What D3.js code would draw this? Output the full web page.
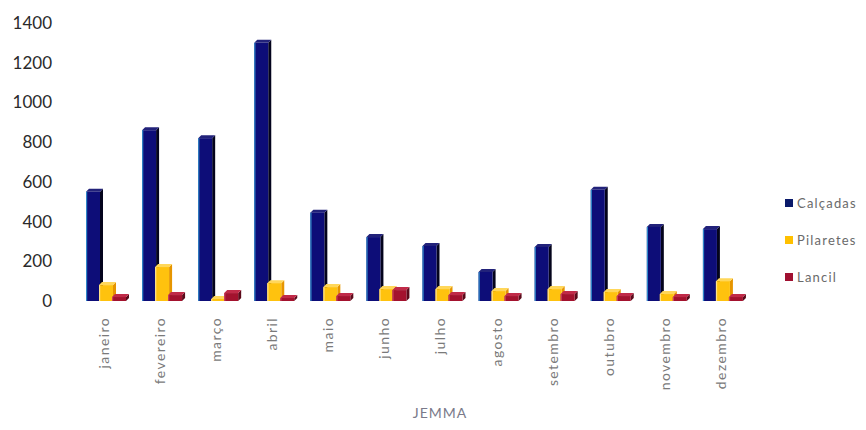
<!DOCTYPE html>
<html><head><meta charset="utf-8">
<script src="https://cdn.jsdelivr.net/npm/d3@7"></script>
<style>body{margin:0;background:#fff}svg{display:block}</style>
</head><body>
<svg id="c" width="866" height="430"></svg>
<script>
const months = ["janeiro","fevereiro","março","abril","maio","junho","julho","agosto","setembro","outubro","novembro","dezembro"];
const series = ["Calçadas","Pilaretes","Lancil"];
const calcadas = [550,860,820,1300,445,322,277,146,272,560,373,362];
const pilaretes = [80,171,10,90,70,60,60,50,60,45,35,100];
const lancil = [20,30,40,15,25,55,30,25,35,25,20,20];
const yTicks = [0,200,400,600,800,1000,1200,1400];
const xTitle = "JEMMA";

const values = {"Calçadas":calcadas,"Pilaretes":pilaretes,"Lancil":lancil};
const colors = {
  "Calçadas":{front:"#0d0d78",side:"#04041c",top:"#22227a",edge:"#2f86c8"},
  "Pilaretes":{front:"#ffc20e",side:"#e69500",top:"#ffd75a",edge:"#ffe28a"},
  "Lancil":{front:"#a3122e",side:"#5a0a1a",top:"#c02a48",edge:"#c84060"}
};
const legendColors = {"Calçadas":"#0a1a6a","Pilaretes":"#ffc000","Lancil":"#a01030"};

const svg = d3.select("#c");
const y = d3.scaleLinear().domain([0,1400]).range([301,23]);
const x0 = d3.scaleBand().domain(months).range([78,751]);
const x1 = d3.scaleBand().domain(series).range([8,47]);
const depth = 3;
const bw = x1.bandwidth() + 1;

// y axis labels
svg.append("g").selectAll("text").data(yTicks).join("text")
  .attr("x",52).attr("y",d=>y(d)).attr("dy","0.35em")
  .attr("text-anchor","end")
  .attr("font-family","Lato, 'Open Sans', sans-serif")
  .attr("font-size",17).attr("fill","#2a2a2a")
  .text(d=>d);

// bars
const g = svg.append("g");
months.forEach((m,i)=>{
  series.forEach(s=>{
    const v = values[s][i];
    const x = x0(m) + x1(s);
    const yt = y(v), yb = y(0);
    const c = colors[s];
    g.append("path")
      .attr("d",`M${x+bw},${yt}L${x+bw+depth},${yt-depth}L${x+bw+depth},${yb-depth}L${x+bw},${yb}Z`)
      .attr("fill",c.side);
    g.append("path")
      .attr("d",`M${x},${yt}L${x+depth},${yt-depth}L${x+bw+depth},${yt-depth}L${x+bw},${yt}Z`)
      .attr("fill",c.top);
    g.append("rect").attr("x",x).attr("y",yt).attr("width",bw).attr("height",Math.max(0,yb-yt))
      .attr("fill",c.front);
    g.append("rect").attr("x",x).attr("y",yt).attr("width",1.2).attr("height",Math.max(0,yb-yt))
      .attr("fill",c.edge);
  });
});

// month labels
svg.append("g").selectAll("text").data(months).join("text")
  .attr("transform",d=>`translate(${x0(d)+x0.bandwidth()/2-2},317) rotate(-90)`)
  .attr("text-anchor","end").attr("dy","0.35em")
  .attr("font-family","Lato, 'Open Sans', sans-serif")
  .attr("font-size",14).attr("letter-spacing","1.4px").attr("fill","#7a7a7a")
  .text(d=>d);

// x title
svg.append("text").attr("x",440).attr("y",418).attr("text-anchor","middle")
  .attr("font-family","Lato, 'Open Sans', sans-serif")
  .attr("font-size",14).attr("letter-spacing","1px").attr("fill","#7a7a8a")
  .text(xTitle);

// legend
const lg = svg.append("g");
series.forEach((s,i)=>{
  const yy = 203 + i*37;
  lg.append("rect").attr("x",785).attr("y",yy-4).attr("width",8).attr("height",8).attr("fill",legendColors[s]);
  lg.append("text").attr("x",797).attr("y",yy).attr("dy","0.35em")
    .attr("font-family","Lato, 'Open Sans', sans-serif")
    .attr("font-size",13).attr("letter-spacing","1.2px").attr("fill","#6a6a6a")
    .text(s);
});
</script>
</body></html>
